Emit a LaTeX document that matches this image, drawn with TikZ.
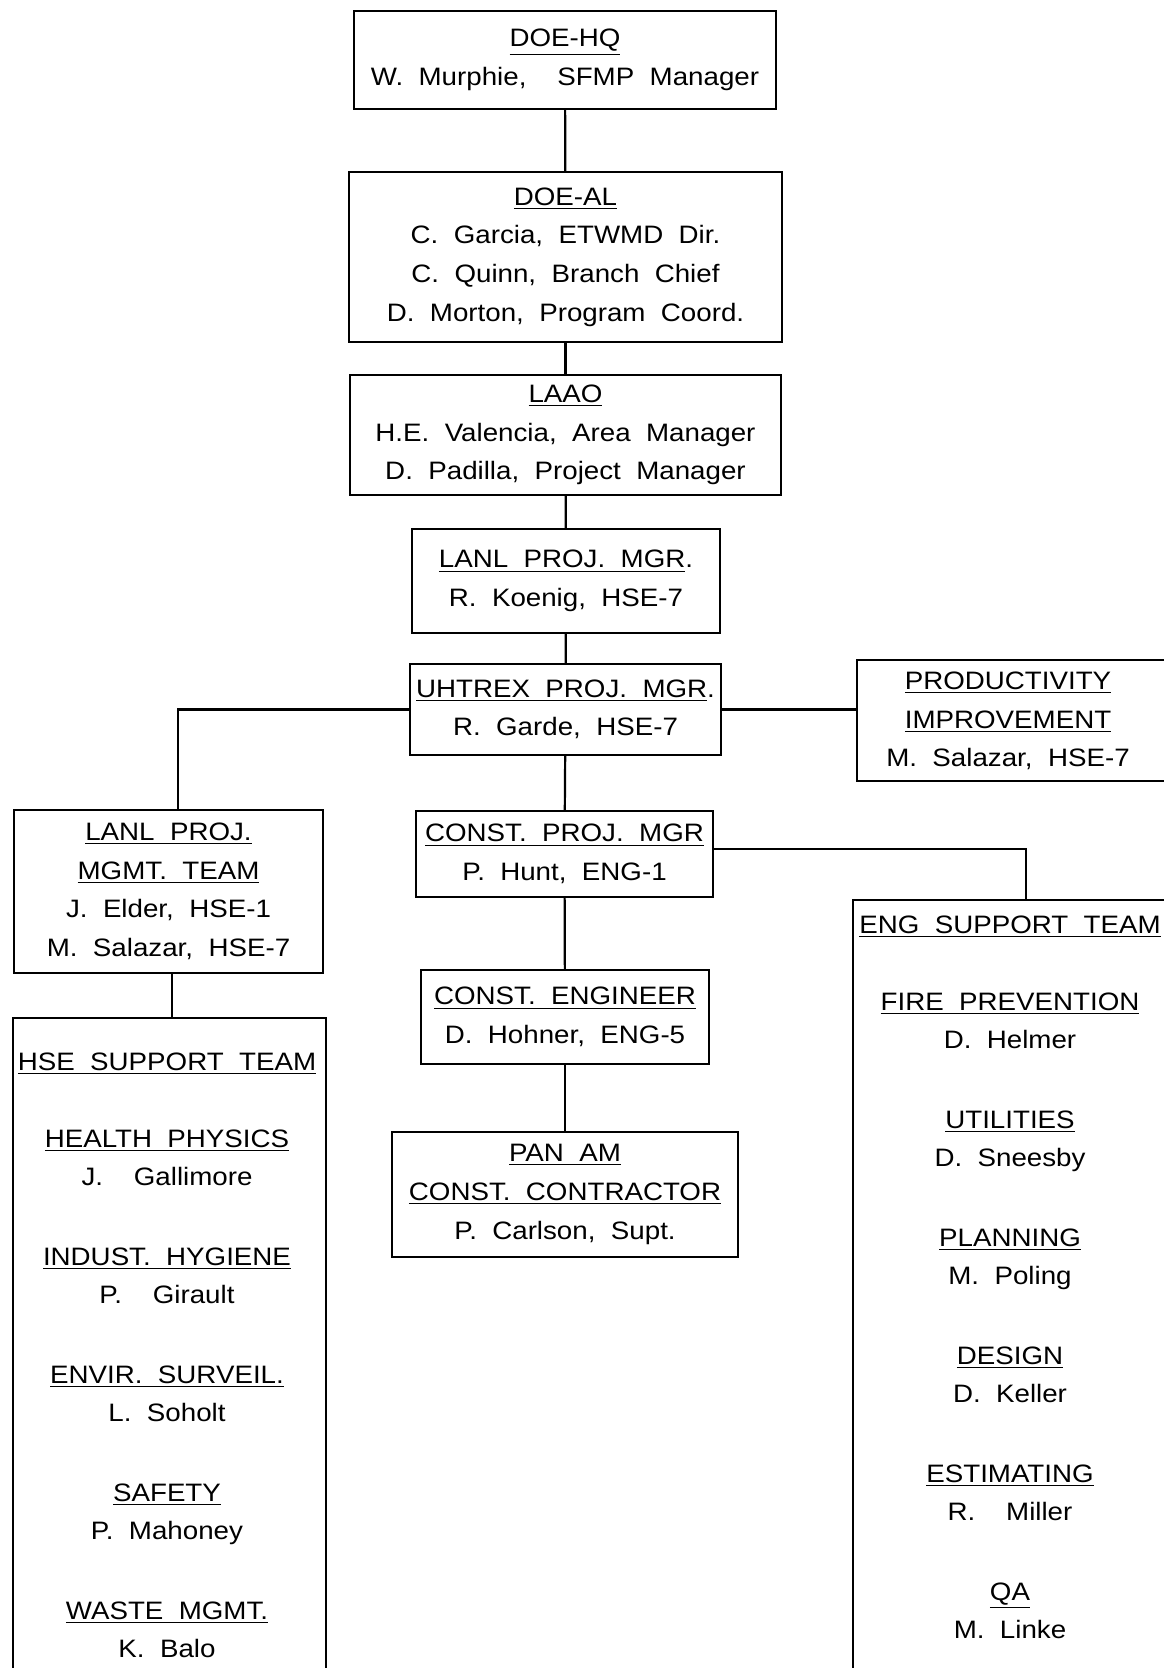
\documentclass[tikz,border=0pt]{standalone}
\usepackage{fontspec}
\setmainfont{Liberation Sans}[FakeStretch=1.1, WordSpace=2.0]
\usepackage{tikz}
\usetikzlibrary{positioning, calc}

\newcommand{\hdr}[1]{\underline{#1}}

\begin{document}
\begin{tikzpicture}[
    x=0.5pt, y=-0.5pt,
    every node/.style={font=\fontsize{12.6}{19.3}\selectfont},
    orgbox/.style={draw, line width=1.1pt, align=center, inner sep=1pt},
    listtext/.style={align=center, inner sep=0pt, anchor=north},
    link/.style={line width=1.1pt}
]
\useasboundingbox (0,0) rectangle (1164,1668);

\node[orgbox, minimum width=211pt, minimum height=49pt] (hq) at (565,60) {%
    \hdr{DOE-HQ}\\
    W. Murphie,\ \ SFMP Manager
};

\node[orgbox, minimum width=216.5pt, minimum height=85pt] (al) at (565.5,257) {%
    \hdr{DOE-AL}\\
    C. Garcia, ETWMD Dir.\\
    C. Quinn, Branch Chief\\
    D. Morton, Program Coord.
};

\node[orgbox, minimum width=215.5pt, minimum height=60pt] (laao) at (565.5,435) {%
    \hdr{LAAO}\\
    H.E. Valencia, Area Manager\\
    D. Padilla, Project Manager
};

\node[orgbox, minimum width=154pt, minimum height=52pt] (lanlpm) at (566,581) {%
    \hdr{LANL PROJ. MGR}.\\
    R. Koenig, HSE-7
};

\node[orgbox, minimum width=155.5pt, minimum height=45.5pt] (uhtrex) at (565.5,709.5) {%
    \hdr{UHTREX PROJ. MGR}.\\
    R. Garde, HSE-7
};

% productivity box runs off the right edge
\node[align=center, inner sep=0pt] (prod) at (1008,721) {%
    \hdr{PRODUCTIVITY}\\
    \hdr{IMPROVEMENT}\\
    M. Salazar, HSE-7
};
\draw[link] (1164,660) -- (857,660) -- (857,781) -- (1164,781);
\coordinate (prodw) at (857,711);

\node[orgbox, minimum width=154.5pt, minimum height=81.5pt] (mgmt) at (168.5,891.5) {%
    \hdr{LANL PROJ.}\\
    \hdr{MGMT. TEAM}\\
    J. Elder, HSE-1\\
    M. Salazar, HSE-7
};

\node[orgbox, minimum width=148.5pt, minimum height=43pt] (cpm) at (564.5,854) {%
    \hdr{CONST. PROJ. MGR}\\
    P. Hunt, ENG-1
};

\node[orgbox, minimum width=144pt, minimum height=47pt] (ceng) at (565,1017) {%
    \hdr{CONST. ENGINEER}\\
    D. Hohner, ENG-5
};

\node[orgbox, minimum width=173pt, minimum height=62.5pt] (panam) at (565,1194.5) {%
    \hdr{PAN AM}\\
    \hdr{CONST. CONTRACTOR}\\
    P. Carlson, Supt.
};

% support teams, open at the bottom
\draw[link] (13,1668) -- (13,1018) -- (326,1018) -- (326,1668);
\coordinate (hsetap) at (172,1018);
\node[listtext] (hse) at (167,1052) {%
    \hdr{HSE SUPPORT TEAM}\\[19.2pt]
    \hdr{HEALTH PHYSICS}\\
    J.\ \ Gallimore\\[20.4pt]
    \hdr{INDUST. HYGIENE}\\
    P.\ \ Girault\\[20.4pt]
    \hdr{ENVIR. SURVEIL.}\\
    L. Soholt\\[20.4pt]
    \hdr{SAFETY}\\
    P. Mahoney\\[20.4pt]
    \hdr{WASTE MGMT.}\\
    K. Balo
};

\draw[link] (1164,900) -- (853,900) -- (853,1668);
\coordinate (engtap) at (1026,900);
\node[listtext] (eng) at (1010,915) {%
    \hdr{ENG SUPPORT TEAM}\\[19.2pt]
    \hdr{FIRE PREVENTION}\\
    D. Helmer\\[20.4pt]
    \hdr{UTILITIES}\\
    D. Sneesby\\[20.4pt]
    \hdr{PLANNING}\\
    M. Poling\\[20.4pt]
    \hdr{DESIGN}\\
    D. Keller\\[20.4pt]
    \hdr{ESTIMATING}\\
    R.\ \ Miller\\[20.4pt]
    \hdr{QA}\\
    M. Linke
};

% Chain of command
\draw[link] (hq) -- (al);
\draw[link] (al) -- (laao);
\draw[link] (laao) -- (lanlpm);
\draw[link] (lanlpm) -- (uhtrex);
\draw[link] (uhtrex) -- (cpm);
\draw[link] (cpm) -- (ceng);
\draw[link] (ceng) -- (panam);

% Side branches
\draw[link] (uhtrex.east) -- (uhtrex.east -| prodw);
\draw[link] (uhtrex.west) -| ([xshift=4.75pt]mgmt.north);
\draw[link] ([xshift=1.75pt]mgmt.south) -- (hsetap);
\draw[link] ([yshift=2.5pt]cpm.east) -| (engtap);

\end{tikzpicture}
\end{document}
